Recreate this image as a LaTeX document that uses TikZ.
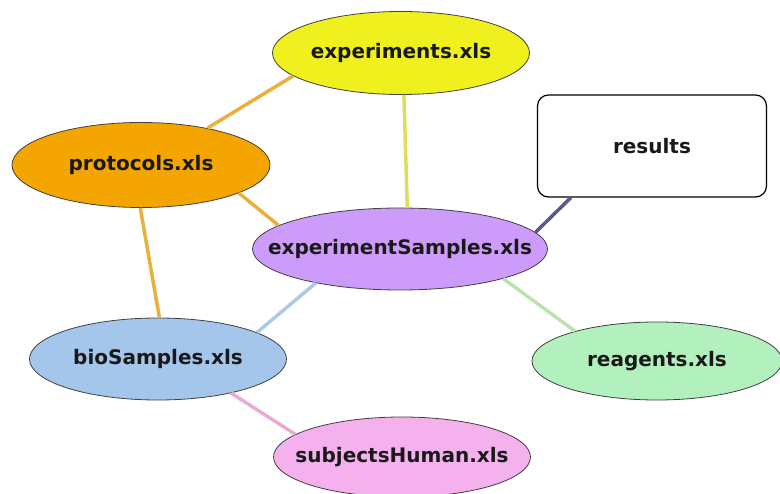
\documentclass[tikz,border=0pt]{standalone}
\usepackage{fontspec}
\setmainfont{DejaVu Sans}
\usetikzlibrary{shapes.geometric}

\definecolor{fillExp}{RGB}{240,240,30}
\definecolor{fillProt}{RGB}{245,165,0}
\definecolor{fillSam}{RGB}{205,155,250}
\definecolor{fillBio}{RGB}{165,198,235}
\definecolor{fillRea}{RGB}{178,240,190}
\definecolor{fillSub}{RGB}{245,176,238}
\definecolor{lineOrange}{RGB}{232,176,60}
\definecolor{lineYellow}{RGB}{222,222,90}
\definecolor{lineSlate}{RGB}{90,90,140}
\definecolor{lineBlue}{RGB}{172,202,232}
\definecolor{lineGreen}{RGB}{185,228,175}
\definecolor{linePink}{RGB}{232,172,212}

\begin{document}
\begin{tikzpicture}
[x=1pt,y=-1pt,
  lineDecorate/.style={-,line width=3.5pt},%
  textDecorate/.style={font=\fontsize{20}{23}\selectfont\bfseries,text=black!90},
  nodeDecorate/.style={shape=ellipse,inner sep=0pt,draw=black!75,line width=0.8pt},
  boxDecorate/.style={shape=rectangle,rounded corners=11pt,inner sep=0pt,draw=black,
    line width=1.2pt,fill=white,textDecorate}]
\useasboundingbox (0,0) rectangle (780,494);
%% nodes or vertices
\foreach \nodename/\x/\y/\w/\h/\col/\txt in {
  exps/401/53/257/83/fillExp/experiments.xls,
  prot/141/165/258/85/fillProt/protocols.xls,
  sam/400/249/295/82/fillSam/experimentSamples.xls,
  bio/158/359/257/82/fillBio/bioSamples.xls,
  rea/657/361/250/78/fillRea/reagents.xls,
  sub/402/457/257/80/fillSub/subjectsHuman.xls}
{
  \node (\nodename) at (\x,\y) [nodeDecorate,fill=\col,minimum width=\w,minimum height=\h,
    label={[textDecorate]center:\txt}] {};
}
\node (results) at (652,146) [boxDecorate,minimum width=229,minimum height=102] {results};
\coordinate (resfoot) at ([xshift=34pt]results.south west);
%% edges or lines
\path
\foreach \startnode/\endnode/\col in {
  exps.192/prot.29/lineOrange, exps.274/sam.80/lineYellow,
  prot.-16/sam.169/lineOrange, prot.269/bio.88/lineOrange,
  sam.7/resfoot/lineSlate, sam.202/bio.15/lineBlue,
  sam.-16/rea.160/lineGreen, bio.-25/sub.168/linePink}
{
  (\startnode) edge[lineDecorate,draw=\col] node {} (\endnode)
};
\end{tikzpicture}
\end{document}
